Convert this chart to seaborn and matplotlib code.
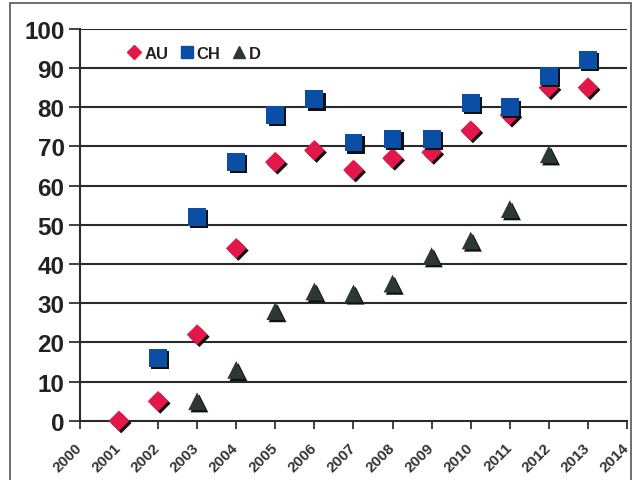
import numpy as np
import pandas as pd
import seaborn as sns
import matplotlib.pyplot as plt
import matplotlib.patheffects as pe
import matplotlib.transforms as mtransforms
from matplotlib.lines import Line2D
from matplotlib.patches import Rectangle

# data
au_years = [2001, 2002, 2003, 2004, 2005, 2006, 2007, 2008, 2009, 2010, 2011, 2012, 2013]
au_vals = [0, 5, 22, 44, 66, 69, 64, 67, 68.5, 74, 78, 85, 85]
ch_years = [2002, 2003, 2004, 2005, 2006, 2007, 2008, 2009, 2010, 2011, 2012, 2013]
ch_vals = [16, 52, 66, 78, 82, 71, 72, 72, 81, 80, 88, 92]
d_years = [2003, 2004, 2005, 2006, 2007, 2008, 2009, 2010, 2011, 2012]
d_vals = [5, 13, 28, 33, 32.5, 35, 42, 46, 54, 68]

series = ['AU', 'CH', 'D']
colors = {'AU': '#E3174A', 'CH': '#0B4EA6', 'D': '#2C3835'}
markers = {'AU': 'D', 'CH': 's', 'D': '^'}
sizes = {'AU': 110, 'CH': 165, 'D': 165}

x_ticks = list(range(2000, 2015))
y_ticks = list(range(0, 101, 10))

df = pd.concat([
    pd.DataFrame({'year': au_years, 'value': au_vals, 'country': 'AU'}),
    pd.DataFrame({'year': ch_years, 'value': ch_vals, 'country': 'CH'}),
    pd.DataFrame({'year': d_years, 'value': d_vals, 'country': 'D'}),
], ignore_index=True)

sns.set_style('white')
plt.rcParams['font.family'] = ['Liberation Sans', 'DejaVu Sans']

fig = plt.figure(figsize=(6.34, 4.81), dpi=100)
ax = fig.add_axes([0.126, 0.123, 0.863, 0.815])

# grid lines behind the markers
for y in y_ticks[1:]:
    ax.axhline(y, color='#2a2a2a', lw=1.5, zorder=0)

shadow = [pe.SimplePatchShadow(offset=(1.6, -1.6), shadow_rgbFace='#111111', alpha=1.0), pe.Normal()]
for s in series:
    sub = df[df['country'] == s]
    sns.scatterplot(data=sub, x='year', y='value', ax=ax, color=colors[s], marker=markers[s],
                    s=sizes[s], linewidth=0, legend=False, zorder=3, clip_on=False)
    ax.collections[-1].set_path_effects(shadow)

ax.set_xlim(2000, 2014)
ax.set_ylim(0, 100)
ax.set_xticks(x_ticks)
ax.set_yticks(y_ticks)
ax.set_xticklabels([str(v) for v in x_ticks], rotation=45, ha='right', rotation_mode='anchor',
                   fontsize=11, fontweight='bold', color='#333333')
ax.set_yticklabels([str(v) for v in y_ticks], fontsize=17.5, fontweight='bold', color='#222222')
ax.tick_params(axis='x', direction='out', length=6, width=1.3, color='#333333', pad=8, bottom=True)
ax.tick_params(axis='y', direction='out', length=8, width=1.3, color='#333333', pad=3, left=True)
ax.set_xlabel('')
ax.set_ylabel('')

# nudge the rotated year labels a little to the left
shift = mtransforms.ScaledTranslation(-5 / 100, 0, fig.dpi_scale_trans)
for lab in ax.get_xticklabels():
    lab.set_transform(lab.get_transform() + shift)

for side in ['top', 'right']:
    ax.spines[side].set_visible(False)
for side in ['left', 'bottom']:
    ax.spines[side].set_color('#2a2a2a')
    ax.spines[side].set_linewidth(1.5)

handles = [Line2D([], [], marker=markers[s], color=colors[s], linestyle='', markersize=7 if s == 'AU' else 8)
           for s in series]
leg = ax.legend(handles, series, loc='upper left', bbox_to_anchor=(0.06, 0.995), ncol=3, frameon=False,
                handlelength=0.8, handletextpad=0.2, columnspacing=0.7, prop={'weight': 'bold', 'size': 12})
for t in leg.get_texts():
    t.set_color('#222222')

# outer frame
fig.patches.append(Rectangle((10 / 634, -0.01), 621 / 634, 1 - 4 / 481 + 0.01, transform=fig.transFigure,
                             fill=False, edgecolor='#555555', lw=1.2))

fig.savefig('out.png', dpi=100)
